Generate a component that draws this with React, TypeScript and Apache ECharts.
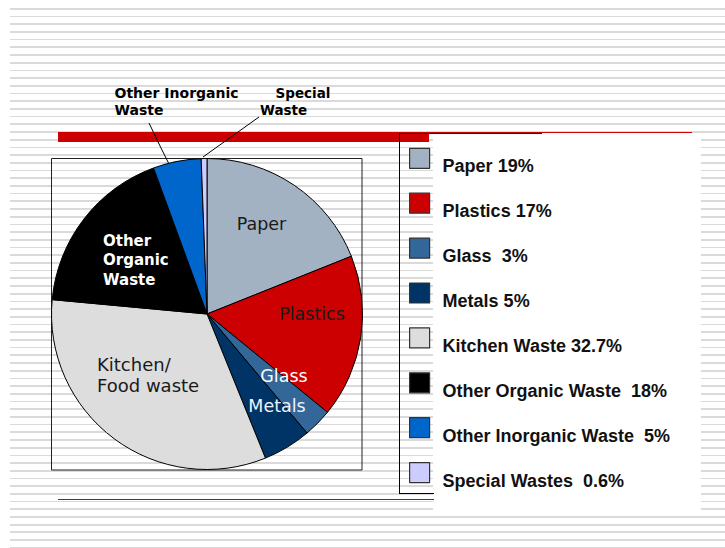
import React, { useEffect, useRef } from "react";
import * as echarts from "echarts";

// ---- data ----
const legendLabels = [
  "Paper 19%",
  "Plastics 17%",
  "Glass  3%",
  "Metals 5%",
  "Kitchen Waste 32.7%",
  "Other Organic Waste  18%",
  "Other Inorganic Waste  5%",
  "Special Wastes  0.6%",
];
const sliceLabels = [
  "Paper",
  "Plastics",
  "Glass",
  "Metals",
  "Kitchen/\nFood waste",
  "Other\nOrganic\nWaste",
  "Other Inorganic\nWaste",
  "{s|Special}\n{w|Waste}",
];
const values = [19, 17, 3, 5, 32.7, 18, 5, 0.6];
const colors = ["#A3B2C2", "#CC0000", "#336699", "#003366", "#DDDDDD", "#000000", "#0066CC", "#CCCCFF"];

// ---- label styles / placement ----
const innerFont = "'DejaVu Sans', Verdana, sans-serif";
const legendFont = "'Liberation Sans', Arial, sans-serif";
const labelStyles: any[] = [
  { position: "inside", fontSize: 17.5, color: "#1a1a1a", fontFamily: innerFont },
  { position: "inside", fontSize: 17.5, color: "#1a1a1a", fontFamily: innerFont },
  { position: "inside", fontSize: 17.5, color: "#ffffff", fontFamily: innerFont },
  { position: "inside", fontSize: 17.5, color: "#eef3fb", fontFamily: innerFont },
  { position: "inside", fontSize: 18, lineHeight: 21, color: "#1a1a1a", fontFamily: innerFont, align: "left" },
  { position: "inside", fontSize: 15, lineHeight: 19.5, color: "#ffffff", fontWeight: "bold", fontFamily: innerFont, align: "left" },
  { position: "outside", fontSize: 14, lineHeight: 17, color: "#000", fontWeight: "bold", fontFamily: innerFont, align: "left" },
  {
    position: "outside", fontSize: 13.5, lineHeight: 17, color: "#000", fontWeight: "bold", fontFamily: innerFont, align: "left",
    rich: {
      s: { fontSize: 13.5, lineHeight: 17, fontWeight: "bold", fontFamily: innerFont, color: "#000", padding: [0, 0, 0, 15.5] },
      w: { fontSize: 13.5, lineHeight: 17, fontWeight: "bold", fontFamily: innerFont, color: "#000" },
    },
  },
];
const labelPlacement: any[] = [
  { x: 261.5, y: 224, align: "center" },
  { x: 312, y: 314, align: "center" },
  { x: 284, y: 376, align: "center" },
  { x: 277, y: 406, align: "center" },
  { x: 97, y: 375, align: "left" },
  { x: 103, y: 260, align: "left" },
  { x: 114.5, y: 101.5, align: "left", line: [[173, 172], [161, 148], [149, 123]] },
  { x: 260, y: 101.5, align: "left", line: [[203, 157], [231, 137], [259, 117]] },
];

export default function App() {
  const ref = useRef<HTMLDivElement>(null);
  useEffect(() => {
    if (!ref.current) return;
    const chart = echarts.init(ref.current, null, { renderer: "svg" });
    const option: any = {
      animation: false,
      color: colors,
      graphic: [
        { type: "rect", shape: { x: 433, y: 133, width: 268, height: 378 }, style: { fill: "#ffffff" } },
        { type: "rect", shape: { x: 58, y: 132, width: 371, height: 10 }, style: { fill: "#CC0000" } },
        { type: "line", shape: { x1: 429, y1: 132.5, x2: 692, y2: 132.5 }, style: { stroke: "#CC0000", lineWidth: 1 } },
        { type: "line", shape: { x1: 399, y1: 133.5, x2: 542, y2: 133.5 }, style: { stroke: "#000", lineWidth: 1 } },
        { type: "line", shape: { x1: 399.5, y1: 133, x2: 399.5, y2: 494 }, style: { stroke: "#000", lineWidth: 1 } },
        { type: "line", shape: { x1: 399, y1: 493.5, x2: 434, y2: 493.5 }, style: { stroke: "#000", lineWidth: 1 } },
        { type: "line", shape: { x1: 58, y1: 499.5, x2: 434, y2: 499.5 }, style: { stroke: "#CC0000", lineWidth: 1 } },
        { type: "rect", shape: { x: 51.5, y: 158.5, width: 310.5, height: 311.5 }, style: { fill: "none", stroke: "#222", lineWidth: 1 } },
      ],
      legend: {
        orient: "vertical",
        left: 409,
        top: 147.7,
        padding: 0,
        itemWidth: 20,
        itemHeight: 20,
        itemGap: 17.3,
        icon: "rect",
        selectedMode: false,
        itemStyle: { borderColor: "#333", borderWidth: 1.2 },
        formatter: (name: string) => `{e| }\n{t|${name}}`,
        textStyle: {
          fontFamily: legendFont,
          fontWeight: "bold",
          fontSize: 18,
          color: "#111",
          rich: {
            e: { fontSize: 2, lineHeight: 16, fontFamily: legendFont },
            t: {
              fontFamily: legendFont,
              fontWeight: "bold",
              fontSize: 18,
              lineHeight: 18,
              color: "#111",
              padding: [0, 0, 0, 8],
            },
          },
        },
        data: legendLabels,
      },
      series: [
        {
          type: "pie",
          center: [207, 314],
          radius: 155.5,
          startAngle: 90,
          clockwise: true,
          avoidLabelOverlap: false,
          silent: true,
          emphasis: { disabled: true },
          itemStyle: { borderColor: "#000", borderWidth: 1 },
          label: {
            show: true,
            position: "inside",
            formatter: (p: any) => sliceLabels[p.dataIndex],
          },
          labelLine: { show: false },
          labelLayout: (p: any) => {
            const pl = labelPlacement[p.dataIndex];
            const r: any = { x: pl.x, y: pl.y, align: pl.align, verticalAlign: "middle" };
            if (pl.line) r.labelLinePoints = pl.line;
            return r;
          },
          data: values.map((v, i) => ({
            name: legendLabels[i],
            value: v,
            itemStyle: { color: colors[i] },
            label: labelStyles[i],
            labelLine: i >= 6 ? { show: true, length: 10, length2: 10, lineStyle: { color: "#000", width: 1 } } : { show: false },
          })),
        },
      ],
    };
    chart.setOption(option);
    return () => chart.dispose();
  }, []);
  return (
    <div
      style={{
        position: "fixed",
        left: 0,
        top: 0,
        width: 725,
        height: 548,
        backgroundColor: "#ffffff",
        backgroundImage:
          "repeating-linear-gradient(to bottom, #ffffff 0px, #ffffff 5.9px, #dadada 5.9px, #dadada 7.7px)",
        backgroundRepeat: "no-repeat",
        backgroundSize: "715px 560px",
        backgroundPosition: "10px 1.5px",
      }}
    >
      <div ref={ref} style={{ width: 725, height: 548 }} />
    </div>
  );
}
